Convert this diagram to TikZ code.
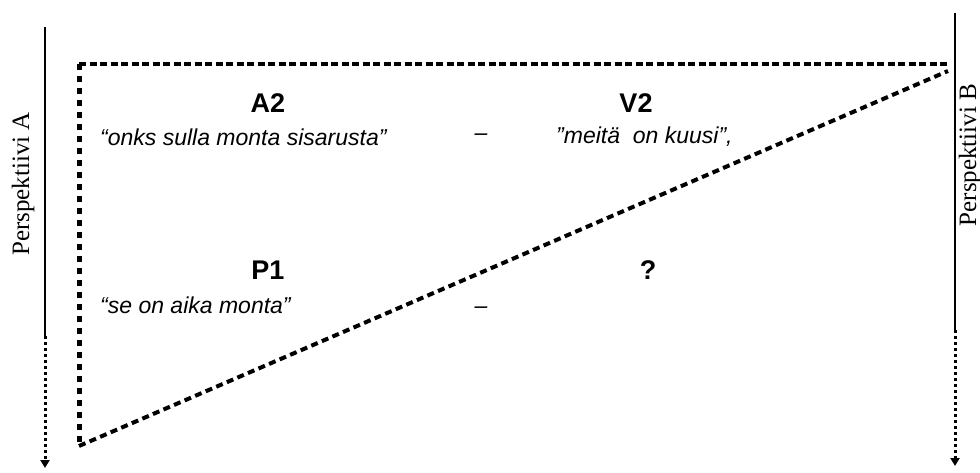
\documentclass[tikz,border=0pt]{standalone}
\usepackage{fontspec}
\setmainfont{Liberation Serif}
\newfontfamily\arial{Liberation Sans}
\usetikzlibrary{arrows.meta}
\begin{document}
\begin{tikzpicture}[x=1pt,y=-1pt,
  persp/.style={line width=2.6pt},
  perspdot/.style={line width=3pt,dash pattern=on 3pt off 3pt,-{Triangle[width=9pt,length=8pt]}},
  boxline/.style={line width=4pt,dash pattern=on 7pt off 3.5pt},
  boxside/.style={line width=5pt,dash pattern=on 6pt off 6pt},
  diag/.style={line width=4pt,dash pattern=on 7pt off 4.5pt},
  lbl/.style={font=\arial\bfseries\fontsize{27}{30}\selectfont,inner sep=0pt},
  quot/.style={font=\arial\itshape\fontsize{23}{26}\selectfont,inner sep=0pt},
  side/.style={font=\fontsize{25}{28}\selectfont,rotate=90,inner sep=0pt}]
\useasboundingbox (0,0) rectangle (980,473);
% perspective lines
\coordinate (la) at (45,27);
\coordinate (lb) at (45,336);
\coordinate (lc) at (45,468);
\coordinate (ra) at (955,13);
\coordinate (rb) at (955,330);
\coordinate (rc) at (955,466);
\draw[persp] (la) -- (lb);
\draw[perspdot] (lb) -- (lc);
\draw[persp] (ra) -- (rb);
\draw[perspdot] (rb) -- (rc);
\node[side] (pa) at (23,184) {Perspektiivi A};
\node[side] (pb) at (970,155) {Perspektiivi B};
% dashed triangle
\coordinate (tl) at (79,64);
\coordinate (tr) at (950,64);
\coordinate (bl) at (79,446);
\coordinate (dr) at (948,71);
\draw[boxline] (tl) -- (tr);
\draw[boxside] (tl) -- (bl);
\draw[diag] (bl) -- (dr);
% texts
\node[lbl] (a2) at (268,103) {A2};
\node[lbl] (v2) at (636,103) {V2};
\node[lbl] (p1) at (268,270) {P1};
\node[lbl] (q) at (648,270) {?};
\node[quot,anchor=west] (qa) at (100,137) {“onks sulla monta sisarusta”};
\node[quot] (d1) at (481,137) {–};
\node[quot,anchor=west] (qv) at (556,137) {”meitä\ \ on kuusi”,};
\node[quot,anchor=west] (qp) at (100,305) {“se on aika monta”};
\node[quot] (d2) at (481,310) {–};
\end{tikzpicture}
\end{document}
